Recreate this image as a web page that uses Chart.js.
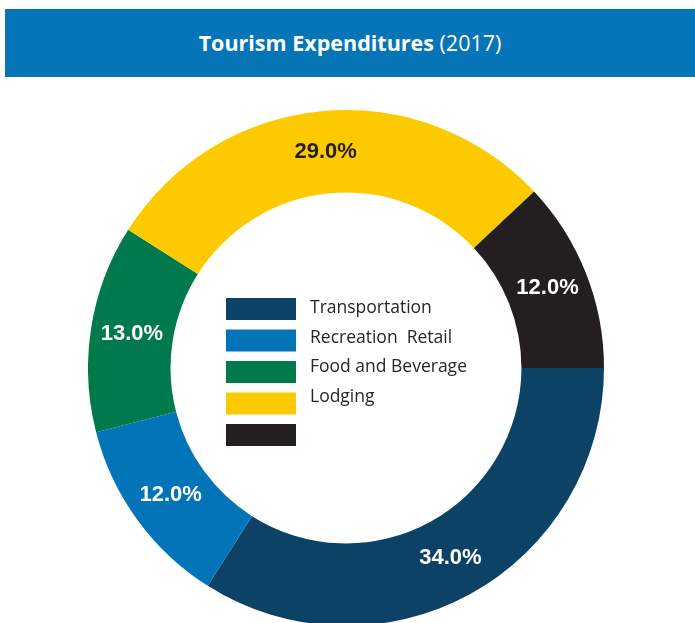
<!DOCTYPE html>
<html>
<head>
<meta charset="utf-8">
<script src="https://cdn.jsdelivr.net/npm/chart.js@4.4.1/dist/chart.umd.min.js"></script>
<style>
  html,body{margin:0;padding:0;background:#fff;overflow:hidden;width:695px;height:623px;}
  .title-bar{position:absolute;left:5px;top:9px;width:690px;height:68px;background:#0575b7;
    color:#fff;font-family:'Open Sans',sans-serif;font-size:21.5px;line-height:68px;text-align:center;}
  .title-bar b{font-weight:700;}
  .wrap{position:absolute;left:88px;top:110px;width:516px;height:516px;}
</style>
</head>
<body>
<div class="title-bar"><b>Tourism Expenditures</b> (2017)</div>
<div class="wrap"><canvas id="chartTourism" width="516" height="516"></canvas></div>
<script>
// data
const LABELS = ['Transportation', 'Recreation  Retail', 'Food and Beverage', 'Lodging', ''];
const VALUES = [34.0, 12.0, 13.0, 29.0, 12.0];
const COLORS = ['#0b4266', '#0474b8', '#007a4c', '#fdca00', '#231f20'];
const VALUE_TEXT_COLORS = ['#fff', '#fff', '#fff', '#231f20', '#fff'];

// percentages on the ring
const valueLabels = {
  id: 'valueLabels',
  afterDatasetsDraw(chart) {
    const ctx = chart.ctx;
    const meta = chart.getDatasetMeta(0);
    ctx.save();
    ctx.font = 'bold 22px "Liberation Sans", Arial, sans-serif';
    ctx.textAlign = 'center';
    ctx.textBaseline = 'middle';
    meta.data.forEach((arc, i) => {
      const p = arc.tooltipPosition();
      ctx.fillStyle = VALUE_TEXT_COLORS[i];
      ctx.fillText(VALUES[i].toFixed(1) + '%', p.x, p.y);
    });
    ctx.restore();
  }
};

// legend drawn in the hole
const innerLegend = {
  id: 'innerLegend',
  afterDraw(chart) {
    const ctx = chart.ctx;
    const arc = chart.getDatasetMeta(0).data[0];
    const cx = arc.x, cy = arc.y;
    ctx.save();
    ctx.font = '17.5px "Open Sans", sans-serif';
    ctx.textBaseline = 'middle';
    chart.data.labels.forEach((lab, i) => {
      ctx.fillStyle = chart.data.datasets[0].backgroundColor[i];
      ctx.fillRect(cx - 120, cy - 70 + i * 31.5, 70, 22);
      if (lab) {
        ctx.fillStyle = '#262626';
        ctx.fillText(lab, cx - 36, cy - 60 + i * 29.7);
      }
    });
    ctx.restore();
  }
};

const ctx = document.getElementById('chartTourism').getContext('2d');
new Chart(ctx, {
  type: 'doughnut',
  data: {
    labels: LABELS,
    datasets: [{ data: VALUES, backgroundColor: COLORS, borderWidth: 0, hoverOffset: 0 }]
  },
  options: {
    responsive: false, animation: false, cutout: '68%', rotation: 90,
    layout: { padding: 0 },
    plugins: { legend: { display: false }, tooltip: { enabled: false } }
  },
  plugins: [valueLabels, innerLegend]
});
</script>
</body>
</html>
